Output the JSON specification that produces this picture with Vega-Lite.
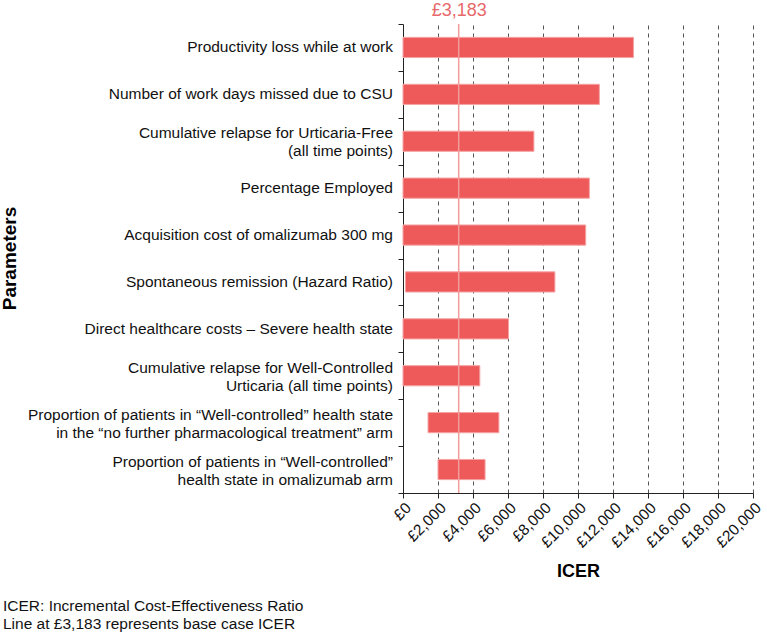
{
  "$schema": "https://vega.github.io/schema/vega-lite/v6.json",
  "width": 350,
  "height": 469,
  "autosize": "none",
  "padding": {"left": 403, "top": 24, "right": 14, "bottom": 146},
  "config": {
    "font": "Liberation Sans",
    "view": {"stroke": null},
    "axis": {"labelFont": "Liberation Sans", "titleFont": "Liberation Sans", "labelColor": "#111111", "titleColor": "#000000", "domainColor": "#222222", "tickColor": "#222222"}
  },
  "title": {
    "text": ["ICER: Incremental Cost-Effectiveness Ratio", "Line at £3,183 represents base case ICER"],
    "orient": "bottom",
    "anchor": "start",
    "frame": "group",
    "dx": -400,
    "offset": 18,
    "fontSize": 15.5,
    "fontWeight": "normal",
    "lineHeight": 18,
    "color": "#111111",
    "font": "Liberation Sans"
  },
  "datasets": {
    "base": [{"icer": 3183}]
  },
  "data": {
    "values": [
      {"param": "Productivity loss while at work", "low": 0, "high": 13170},
      {"param": "Number of work days missed due to CSU", "low": 0, "high": 11220},
      {"param": "Cumulative relapse for Urticaria-Free|(all time points)", "low": 0, "high": 7480},
      {"param": "Percentage Employed", "low": 0, "high": 10650},
      {"param": "Acquisition cost of omalizumab 300 mg", "low": 0, "high": 10440},
      {"param": "Spontaneous remission (Hazard Ratio)", "low": 140, "high": 8680},
      {"param": "Direct healthcare costs – Severe health state", "low": 0, "high": 6030},
      {"param": "Cumulative relapse for Well-Controlled|Urticaria (all time points)", "low": 0, "high": 4390},
      {"param": "Proportion of patients in “Well-controlled” health state|in the “no further pharmacological treatment” arm", "low": 1430, "high": 5480},
      {"param": "Proportion of patients in “Well-controlled”|health state in omalizumab arm", "low": 2000, "high": 4690}
    ]
  },
  "layer": [
    {
      "mark": {"type": "bar", "color": "#EE5A5A", "stroke": "#F5A3A3", "strokeWidth": 1, "height": {"band": 0.43}},
      "encoding": {
        "y": {
          "field": "param",
          "type": "nominal",
          "sort": null,
          "scale": {"paddingInner": 0, "paddingOuter": 0},
          "axis": {
            "title": "Parameters",
            "titleFontSize": 19,
            "titleFontWeight": "bold",
            "titleAngle": -90,
            "titleX": -388,
            "titleY": 234,
            "titleAlign": "center",
            "titleBaseline": "alphabetic",
            "labels": false,
            "ticks": true,
            "tickBand": "extent",
            "tickSize": 5,
            "grid": false
          }
        },
        "x": {
          "field": "low",
          "type": "quantitative",
          "scale": {"domain": [0, 20000], "nice": false},
          "axis": {
            "title": "ICER",
            "titleFontSize": 18,
            "titleFontWeight": "bold",
            "titlePadding": 12,
            "values": [0, 2000, 4000, 6000, 8000, 10000, 12000, 14000, 16000, 18000, 20000],
            "labelExpr": "'£' + format(datum.value, ',')",
            "labelAngle": -45,
            "labelAlign": "right",
            "labelBaseline": "top",
            "labelFontSize": 15.5,
            "labelPadding": 2,
            "labelOverlap": false,
            "labelBound": false,
            "tickSize": 5,
            "grid": true,
            "gridColor": "#555555",
            "gridDash": [4, 4],
            "gridWidth": 1
          }
        },
        "x2": {"field": "high"}
      }
    },
    {
      "transform": [{"filter": "indexof(datum.param, '|') < 0"}],
      "mark": {"type": "text", "align": "right", "baseline": "middle", "dx": -10, "fontSize": 15.5, "color": "#111111", "font": "Liberation Sans"},
      "encoding": {
        "y": {"field": "param", "type": "nominal", "sort": null},
        "x": {"datum": 0, "type": "quantitative", "axis": null},
        "text": {"field": "param"}
      }
    },
    {
      "transform": [{"filter": "indexof(datum.param, '|') >= 0"}],
      "mark": {"type": "text", "align": "right", "baseline": "middle", "dx": -10, "dy": -8, "lineBreak": "|", "lineHeight": 18, "fontSize": 15.5, "color": "#111111", "font": "Liberation Sans"},
      "encoding": {
        "y": {"field": "param", "type": "nominal", "sort": null},
        "x": {"datum": 0, "type": "quantitative", "axis": null},
        "text": {"field": "param"}
      }
    },
    {
      "data": {"name": "base"},
      "mark": {"type": "rule", "color": "#F29C9C", "strokeWidth": 1.5},
      "encoding": {
        "x": {
          "field": "icer",
          "type": "quantitative",
          "axis": {
            "orient": "top",
            "title": null,
            "values": [3183],
            "labelExpr": "'£3,183'",
            "labelColor": "#E8696B",
            "labelFontSize": 18,
            "labelPadding": 5,
            "ticks": false,
            "domain": false,
            "grid": false
          }
        }
      }
    }
  ],
  "resolve": {"axis": {"x": "independent"}}
}
